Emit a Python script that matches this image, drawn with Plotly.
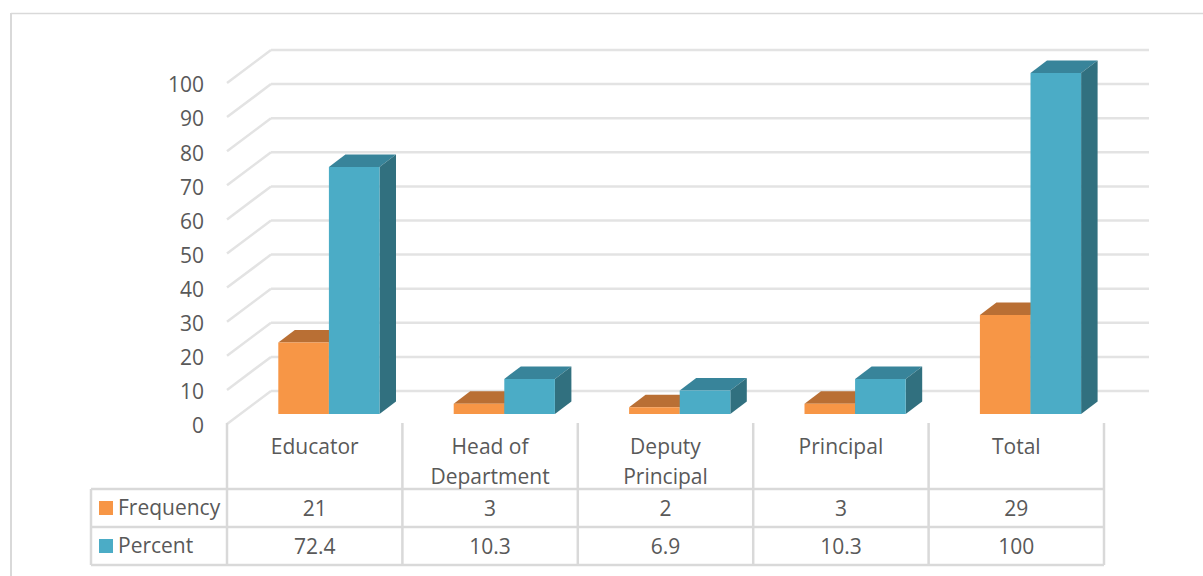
import plotly.graph_objects as go

# Staff roles and their counts / shares
categories = ["Educator", "Head of Department", "Deputy Principal", "Principal", "Total"]
label_line1 = ["Educator", "Head of", "Deputy", "Principal", "Total"]
label_line2 = ["", "Department", "Principal", "", ""]
frequency = [21, 3, 2, 3, 29]
percent = [72.4, 10.3, 6.9, 10.3, 100]
percent_text = ["72.4", "10.3", "6.9", "10.3", "100"]
y_ticks = list(range(0, 101, 10))

W, H = 1203, 576
COL_W = 175.4        # width of one category band, px
X_LEFT = 227         # left edge of the first band, px
Y_ZERO = 424         # value 0 on the front plane, px
PX_PER_UNIT = 3.41

ORANGE, ORANGE_TOP, ORANGE_SIDE = "#F79646", "#B96F34", "#A9652F"
BLUE, BLUE_TOP, BLUE_SIDE = "#4BACC6", "#38849A", "#31707F"
GRID = "#E3E3E3"
TABLE = "#D9D9D9"
TEXT = "#595959"


def px_x(px):
    return (px - X_LEFT) / COL_W - 0.5


def px_y(px):
    return (Y_ZERO - px) / PX_PER_UNIT


# Oblique projection: how far the box depth shifts things in data units
WALL_DX, WALL_DY = 44 / COL_W, 33 / PX_PER_UNIT
BAR_DX, BAR_DY = 16.5 / COL_W, 12.5 / PX_PER_UNIT
BAR_W = 50.6 / COL_W
BAR_SHIFT = 14.2 / COL_W
BAR_BASE = px_y(414)
FONT = dict(family="Open Sans", size=21, color=TEXT)

shapes = []


def line(x0, y0, x1, y1, color, width):
    shapes.append(dict(type="line", xref="x", yref="y", x0=x0, y0=y0, x1=x1, y1=y1,
                       layer="below", line=dict(color=color, width=width)))


# Perspective gridlines: a slanted stub on the side wall, then along the back wall
for v in y_ticks:
    x0 = px_x(X_LEFT)
    line(x0, v, x0 + WALL_DX, v + WALL_DY, GRID, 2.5)
    line(x0 + WALL_DX, v + WALL_DY, px_x(1149), v + WALL_DY, GRID, 2.5)


def polygon(points, color):
    path = "M " + " L ".join(f"{a},{b}" for a, b in points) + " Z"
    shapes.append(dict(type="path", xref="x", yref="y", path=path, layer="below",
                       fillcolor=color, line=dict(width=0)))


# Top and side faces of every column, placed behind the front faces
for values, offset, top, side in (
    (frequency, -BAR_W / 2, ORANGE_TOP, ORANGE_SIDE),
    (percent, BAR_W / 2, BLUE_TOP, BLUE_SIDE),
):
    for i, v in enumerate(values):
        left = i + BAR_SHIFT + offset - BAR_W / 2
        right = left + BAR_W
        t = BAR_BASE + v
        polygon([(left, t), (left + BAR_DX, t + BAR_DY),
                 (right + BAR_DX, t + BAR_DY), (right, t)], top)
        polygon([(right, t), (right + BAR_DX, t + BAR_DY),
                 (right + BAR_DX, BAR_BASE + BAR_DY), (right, BAR_BASE)], side)

# Data table rules
table_top, row1, row2, row3 = px_y(423), px_y(489), px_y(527), px_y(565)
for k in range(6):
    line(k - 0.5, table_top, k - 0.5, row3, TABLE, 2.5)
line(px_x(91), row1, 4.5, row1, TABLE, 2.5)
line(px_x(91), row2, 4.5, row2, TABLE, 2.5)
line(px_x(91), row3, 4.5, row3, TABLE, 2.5)
line(px_x(91), row1, px_x(91), row3, TABLE, 2.5)

# Frame of the chart area, open towards the right and bottom page edges
line(px_x(11), px_y(13.5), px_x(W), px_y(13.5), TABLE, 1.5)
line(px_x(11), px_y(13), px_x(11), px_y(H), TABLE, 2)

fig = go.Figure()

idx = list(range(len(categories)))
fig.add_bar(x=[i + BAR_SHIFT - BAR_W / 2 for i in idx], y=frequency, base=BAR_BASE,
            width=BAR_W, marker=dict(color=ORANGE, line_width=0), name="Frequency")
fig.add_bar(x=[i + BAR_SHIFT + BAR_W / 2 for i in idx], y=percent, base=BAR_BASE,
            width=BAR_W, marker=dict(color=BLUE, line_width=0), name="Percent")


def text_row(xs, px, texts, position="middle center"):
    fig.add_scatter(x=xs, y=[px_y(px)] * len(xs), text=texts, mode="text",
                    textposition=position, textfont=FONT, hoverinfo="skip")


# Category header and table values
text_row(idx, 449, label_line1)
text_row(idx, 479, label_line2)
text_row(idx, 511, [str(v) for v in frequency])
text_row(idx, 549, percent_text)

# Legend keys inside the table
for name, color, px in (("Frequency", ORANGE, 508), ("Percent", BLUE, 546)):
    fig.add_scatter(x=[px_x(106)], y=[px_y(px)], mode="markers",
                    marker=dict(symbol="square", size=14, color=color), hoverinfo="skip")
    text_row([px_x(118)], px + 2, [name], "middle right")

fig.update_layout(
    width=W, height=H, margin=dict(l=0, r=0, t=0, b=0),
    paper_bgcolor="white", plot_bgcolor="white", showlegend=False, barmode="overlay",
    shapes=shapes,
    xaxis=dict(range=[px_x(0), px_x(W)], visible=False, fixedrange=True),
    yaxis=dict(range=[px_y(H), px_y(0)], anchor="free", position=204 / W,
               tickvals=y_ticks, ticktext=[str(t) for t in y_ticks], tickfont=FONT,
               ticklabelshift=2,
               showgrid=False, zeroline=False, showline=False, ticks="", fixedrange=True),
)

fig.write_html("out.html")
